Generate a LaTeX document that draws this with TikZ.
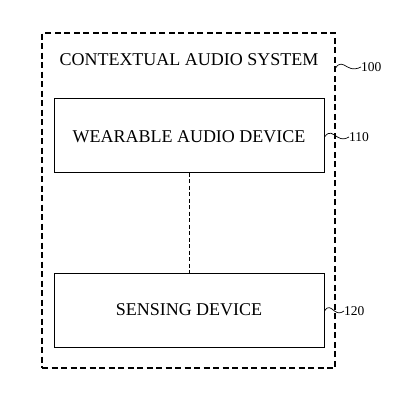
\documentclass[tikz,border=0pt]{standalone}
\usepackage{fontspec}
\setmainfont{Liberation Serif}
\begin{document}
\begin{tikzpicture}[x=1pt,y=-1pt,
  outerbox/.style={draw, line width=1.1pt, dash pattern=on 6pt off 3.5pt, minimum width=293pt, minimum height=335pt, inner sep=0pt},
  devbox/.style={draw, line width=1pt, minimum width=270pt, inner sep=0pt, font=\fontsize{18}{20}\selectfont},
  reflabel/.style={font=\fontsize{13.5}{15}\selectfont, inner sep=0pt, anchor=west},
  squig/.style={line width=0.7pt}]
\useasboundingbox (0,0) rectangle (400,400);
\node[outerbox] (sys) at (188.5,200.5) {};
\node[font=\fontsize{18}{20}\selectfont, inner sep=0pt, anchor=base] (title) at (189,65) {CONTEXTUAL AUDIO SYSTEM};
\node[devbox, minimum height=74pt] (w) at (189,135) {};
\node[font=\fontsize{18}{20}\selectfont, inner sep=0pt, anchor=base] (wt) at (189,142) {WEARABLE AUDIO DEVICE};
\node[devbox, minimum height=74pt] (s) at (189,310) {};
\node[font=\fontsize{18}{20}\selectfont, inner sep=0pt, anchor=base] (st) at (189,315) {SENSING DEVICE};
\draw[line width=0.8pt, dash pattern=on 4pt off 2.5pt] (w) -- (s);
\coordinate (a0) at (sys.east |- 0,68);
\coordinate (a2) at (w.east |- 0,137);
\coordinate (a3) at (s.east |- 0,311);
\node[reflabel] (l100) at (361,67) {100};
\node[reflabel] (l110) at (349,137) {110};
\node[reflabel] (l120) at (344,311) {120};
\draw[squig] (a0) .. controls +(4,-6) and +(-5,-3) .. ++(12,-1) .. controls +(5,3) and +(-4,2) .. (l100.west);
\draw[squig] (a2) .. controls +(5,-7) and +(-5,-3) .. ++(13,0) .. controls +(5,3) and +(-4,2) .. (l110.west);
\draw[squig] (a3) .. controls +(4,-6) and +(-4,-3) .. ++(10,0) .. controls +(4,3) and +(-3,2) .. (l120.west);
\end{tikzpicture}
\end{document}
